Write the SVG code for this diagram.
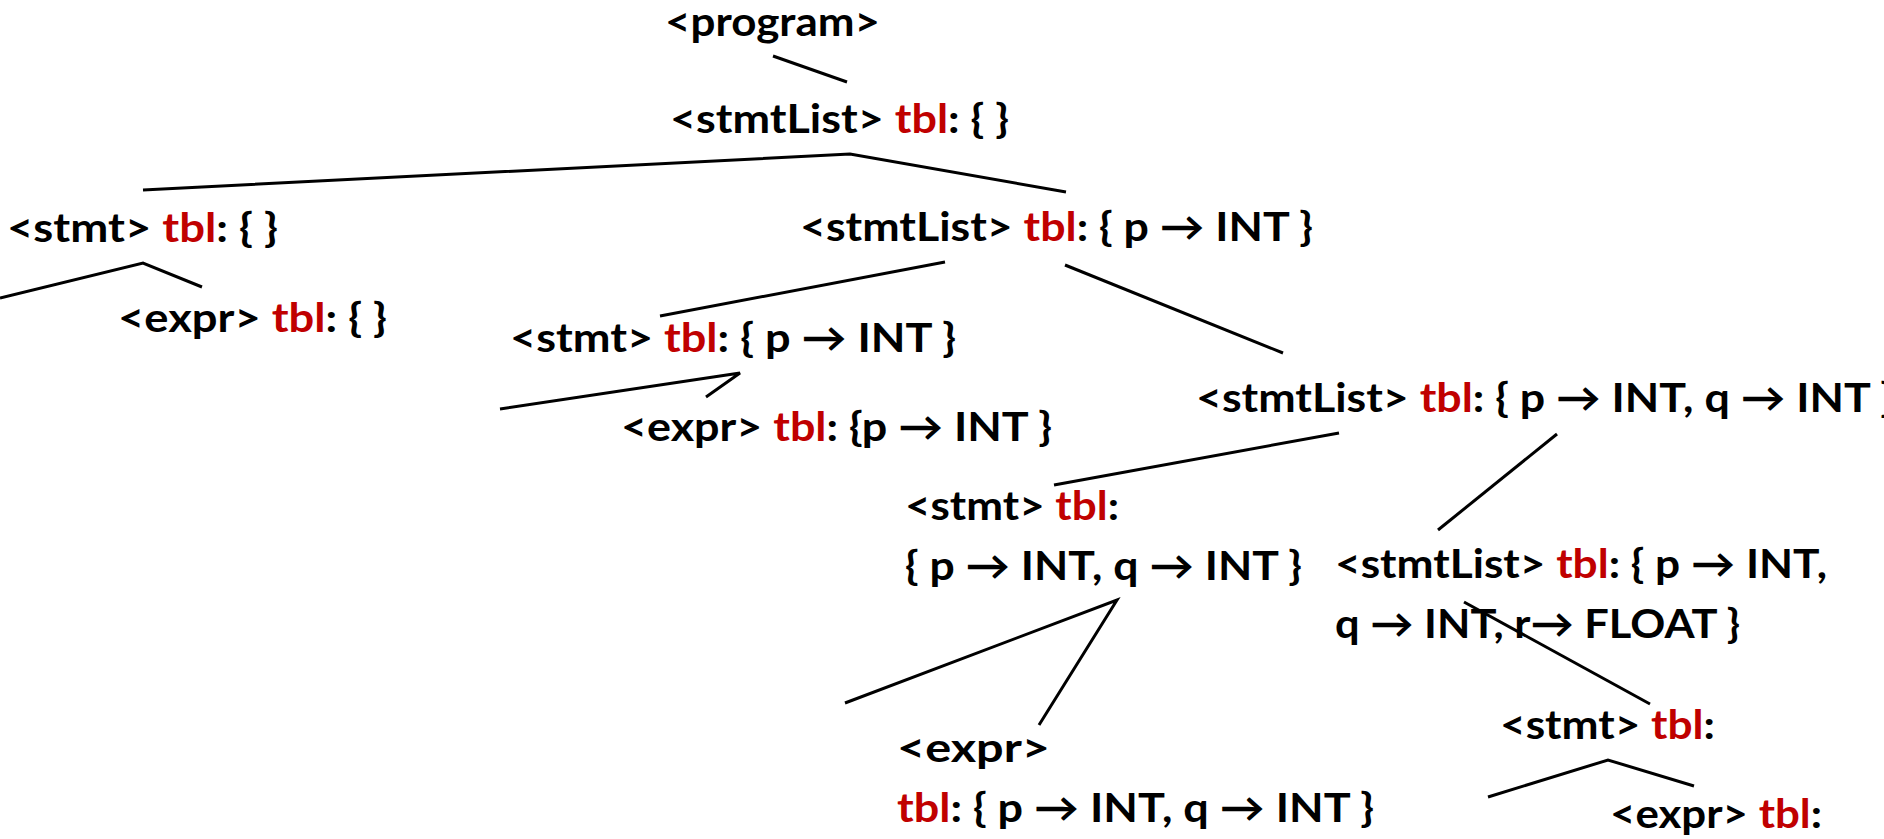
<svg xmlns="http://www.w3.org/2000/svg" width="1884" height="839" viewBox="0 0 1884 839">
  <style>
    text { font-family: Lato, "Liberation Sans", sans-serif; font-weight: bold; font-size: 40px; fill: #000; }
    .t { fill: #C00000; }
    .edge { stroke: #000; stroke-width: 3; fill: none; stroke-linejoin: miter; }
  </style>
  <rect width="1884" height="839" fill="#fff"/>

  <!-- parse tree edges -->
  <g id="connectors">
    <line class="edge" x1="773" y1="56" x2="847" y2="82"/>
    <polyline class="edge" points="143,190 850,154 1066,192"/>
    <polyline class="edge" points="0,298 143,263 202,287"/>
    <line class="edge" x1="945" y1="262" x2="660" y2="316"/>
    <polyline class="edge" points="500,409 740,373 706,397"/>
    <line class="edge" x1="1065" y1="265" x2="1283" y2="353"/>
    <line class="edge" x1="1339" y1="433" x2="1054" y2="485"/>
    <line class="edge" x1="1557" y1="434" x2="1438" y2="530"/>
    <polyline class="edge" points="845,703 1117,600 1039,725"/>
    <line class="edge" x1="1464" y1="602" x2="1650" y2="704"/>
    <polyline class="edge" points="1488,797 1608,760 1694,786"/>
  </g>

  <!-- nodes: grammar symbol with its symbol table -->
  <g id="program">
    <text x="665" y="36" textLength="215" lengthAdjust="spacingAndGlyphs">&lt;program&gt;</text>
  </g>
  <g id="stmtList0">
    <text x="670" y="133" textLength="339" lengthAdjust="spacingAndGlyphs">&lt;stmtList&gt; <tspan class="t">tbl</tspan>: { }</text>
  </g>
  <g id="stmt1">
    <text x="7" y="242" textLength="271" lengthAdjust="spacingAndGlyphs">&lt;stmt&gt; <tspan class="t">tbl</tspan>: { }</text>
  </g>
  <g id="expr1">
    <text x="118" y="332" textLength="269" lengthAdjust="spacingAndGlyphs">&lt;expr&gt; <tspan class="t">tbl</tspan>: { }</text>
  </g>
  <g id="stmtList1">
    <text x="800" y="241" textLength="513" lengthAdjust="spacingAndGlyphs">&lt;stmtList&gt; <tspan class="t">tbl</tspan>: { p → INT }</text>
  </g>
  <g id="stmt2">
    <text x="510" y="352" textLength="446" lengthAdjust="spacingAndGlyphs">&lt;stmt&gt; <tspan class="t">tbl</tspan>: { p → INT }</text>
  </g>
  <g id="expr2">
    <text x="621" y="441" textLength="431" lengthAdjust="spacingAndGlyphs">&lt;expr&gt; <tspan class="t">tbl</tspan>: {p → INT }</text>
  </g>
  <g id="stmtList2">
    <text x="1196" y="412" textLength="698" lengthAdjust="spacingAndGlyphs">&lt;stmtList&gt; <tspan class="t">tbl</tspan>: { p → INT, q → INT }</text>
  </g>
  <g id="stmt3">
    <text x="905" y="520" textLength="214" lengthAdjust="spacingAndGlyphs">&lt;stmt&gt; <tspan class="t">tbl</tspan>:</text>
    <text x="905" y="580" textLength="397" lengthAdjust="spacingAndGlyphs">{ p → INT, q → INT }</text>
  </g>
  <g id="stmtList3">
    <text x="1335" y="578" textLength="492" lengthAdjust="spacingAndGlyphs">&lt;stmtList&gt; <tspan class="t">tbl</tspan>: { p → INT,</text>
    <text x="1335" y="638" textLength="405" lengthAdjust="spacingAndGlyphs">q → INT, r→ FLOAT }</text>
  </g>
  <g id="expr3">
    <text x="897" y="762" textLength="153" lengthAdjust="spacingAndGlyphs">&lt;expr&gt;</text>
    <text x="897" y="822" textLength="477" lengthAdjust="spacingAndGlyphs"><tspan class="t">tbl</tspan>: { p → INT, q → INT }</text>
  </g>
  <g id="stmt4">
    <text x="1500" y="739" textLength="215" lengthAdjust="spacingAndGlyphs">&lt;stmt&gt; <tspan class="t">tbl</tspan>:</text>
  </g>
  <g id="expr4">
    <text x="1610" y="828" textLength="212" lengthAdjust="spacingAndGlyphs">&lt;expr&gt; <tspan class="t">tbl</tspan>:</text>
  </g>
</svg>
